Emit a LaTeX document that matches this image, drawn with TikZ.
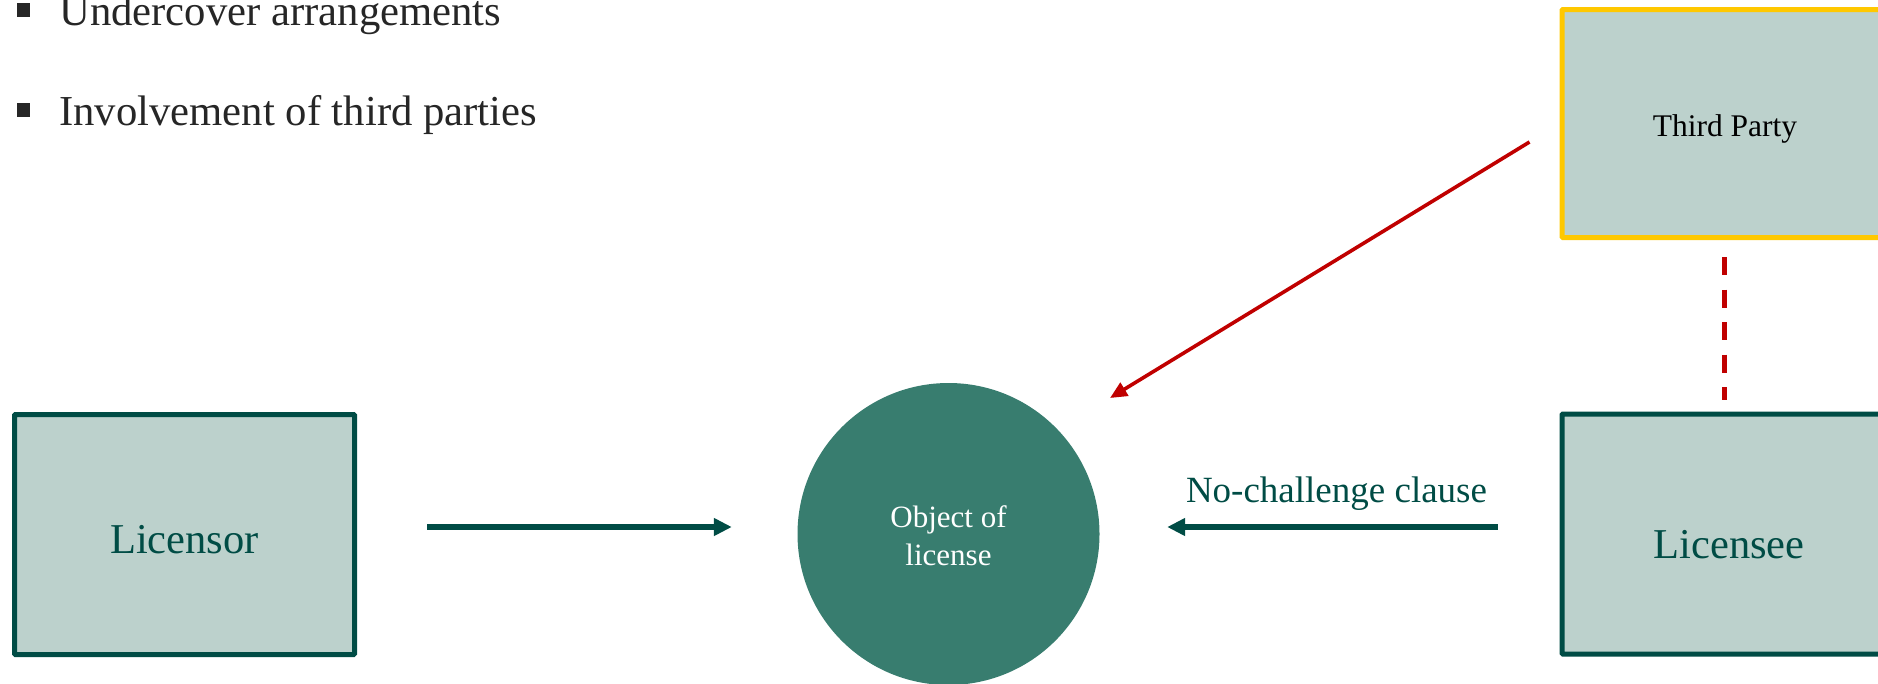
\documentclass[tikz,border=0pt]{standalone}
\usepackage{fontspec}
\setmainfont{Liberation Serif}
\usetikzlibrary{arrows.meta}

\definecolor{deepgreen}{HTML}{004C45}
\definecolor{palegreen}{HTML}{BCD1CC}
\definecolor{midgreen}{HTML}{387D6F}
\definecolor{alertred}{HTML}{C00000}
\definecolor{gold}{HTML}{FFC800}
\definecolor{bodytext}{HTML}{262626}

\tikzset{
  party/.style={draw=deepgreen, fill=palegreen, line width=5pt, rounded corners=1pt,
    minimum width=334pt, minimum height=240pt, inner sep=0pt, text=deepgreen,
    text depth=0pt, font=\fontsize{42.5}{50}\selectfont},
  thirdbox/.style={party, draw=gold, minimum height=228pt, text=black,
    font=\fontsize{31.5}{38}\selectfont},
  objcircle/.style={circle, fill=midgreen, minimum size=302pt, inner sep=0pt,
    text=white, align=center, text height=62pt, text depth=0pt,
    font=\fontsize{31}{38}\selectfont},
  bulletsq/.style={fill=bodytext, minimum size=13.5pt, inner sep=0pt},
  bullettext/.style={anchor=base west, inner sep=0pt, text=bodytext,
    font=\fontsize{42.7}{50}\selectfont},
  flow/.style={draw=deepgreen, line width=6pt, -{Triangle[length=18pt,width=17pt]}},
  flowlabel/.style={anchor=base, inner sep=0pt, text=deepgreen,
    font=\fontsize{37}{44}\selectfont},
  influence/.style={draw=alertred, line width=3.6pt, -{Triangle[length=17pt,width=15pt]}},
  tie/.style={draw=alertred, line width=5pt, dash pattern=on 18pt off 14.5pt}
}

\begin{document}
\begin{tikzpicture}[x=1pt, y=-1pt]
  \clip (0,0) rectangle (1878,683);

  % bullet list
  \node[bulletsq] (b1) at (23.5,10) {};
  \node[bullettext] (t1) at (59,25) {Undercover arrangements};
  \node[bulletsq] (b2) at (23.5,110) {};
  \node[bullettext] (t2) at (59,125) {Involvement of third parties};

  % parties and licensed object
  \node[party, minimum width=340pt, text height=37pt] (licensor) at (184.5,534.5) {Licensor};
  \node[party, text height=48pt] (licensee) at (1729,534) {Licensee};
  \node[thirdbox, minimum width=326pt, text height=25pt] (third) at (1725,123.5) {Third Party};
  \node[objcircle] (obj) at (948.5,534) {Object of\\license};

  % licence grant and no-challenge clause
  \draw[flow, shorten <=70pt, shorten >=65.5pt]
    ([yshift=7.5pt]licensor.east) -- ([yshift=7pt]obj.west);
  \draw[flow, shorten <=62pt, shorten >=67.5pt]
    ([yshift=7pt]licensee.west) -- ([yshift=7pt]obj.east);
  \node[flowlabel] (clause) at (1336.5,502) {No-challenge clause};

  % third-party involvement
  \draw[influence]
    ([xshift=-30pt,yshift=-18.5pt]third.west) -- ([xshift=161.5pt,yshift=136pt]obj.center);
  \draw[tie, shorten <=17pt, shorten >=12pt]
    ([xshift=-1pt]third.south) -- ([xshift=-5pt]licensee.north);
\end{tikzpicture}
\end{document}
